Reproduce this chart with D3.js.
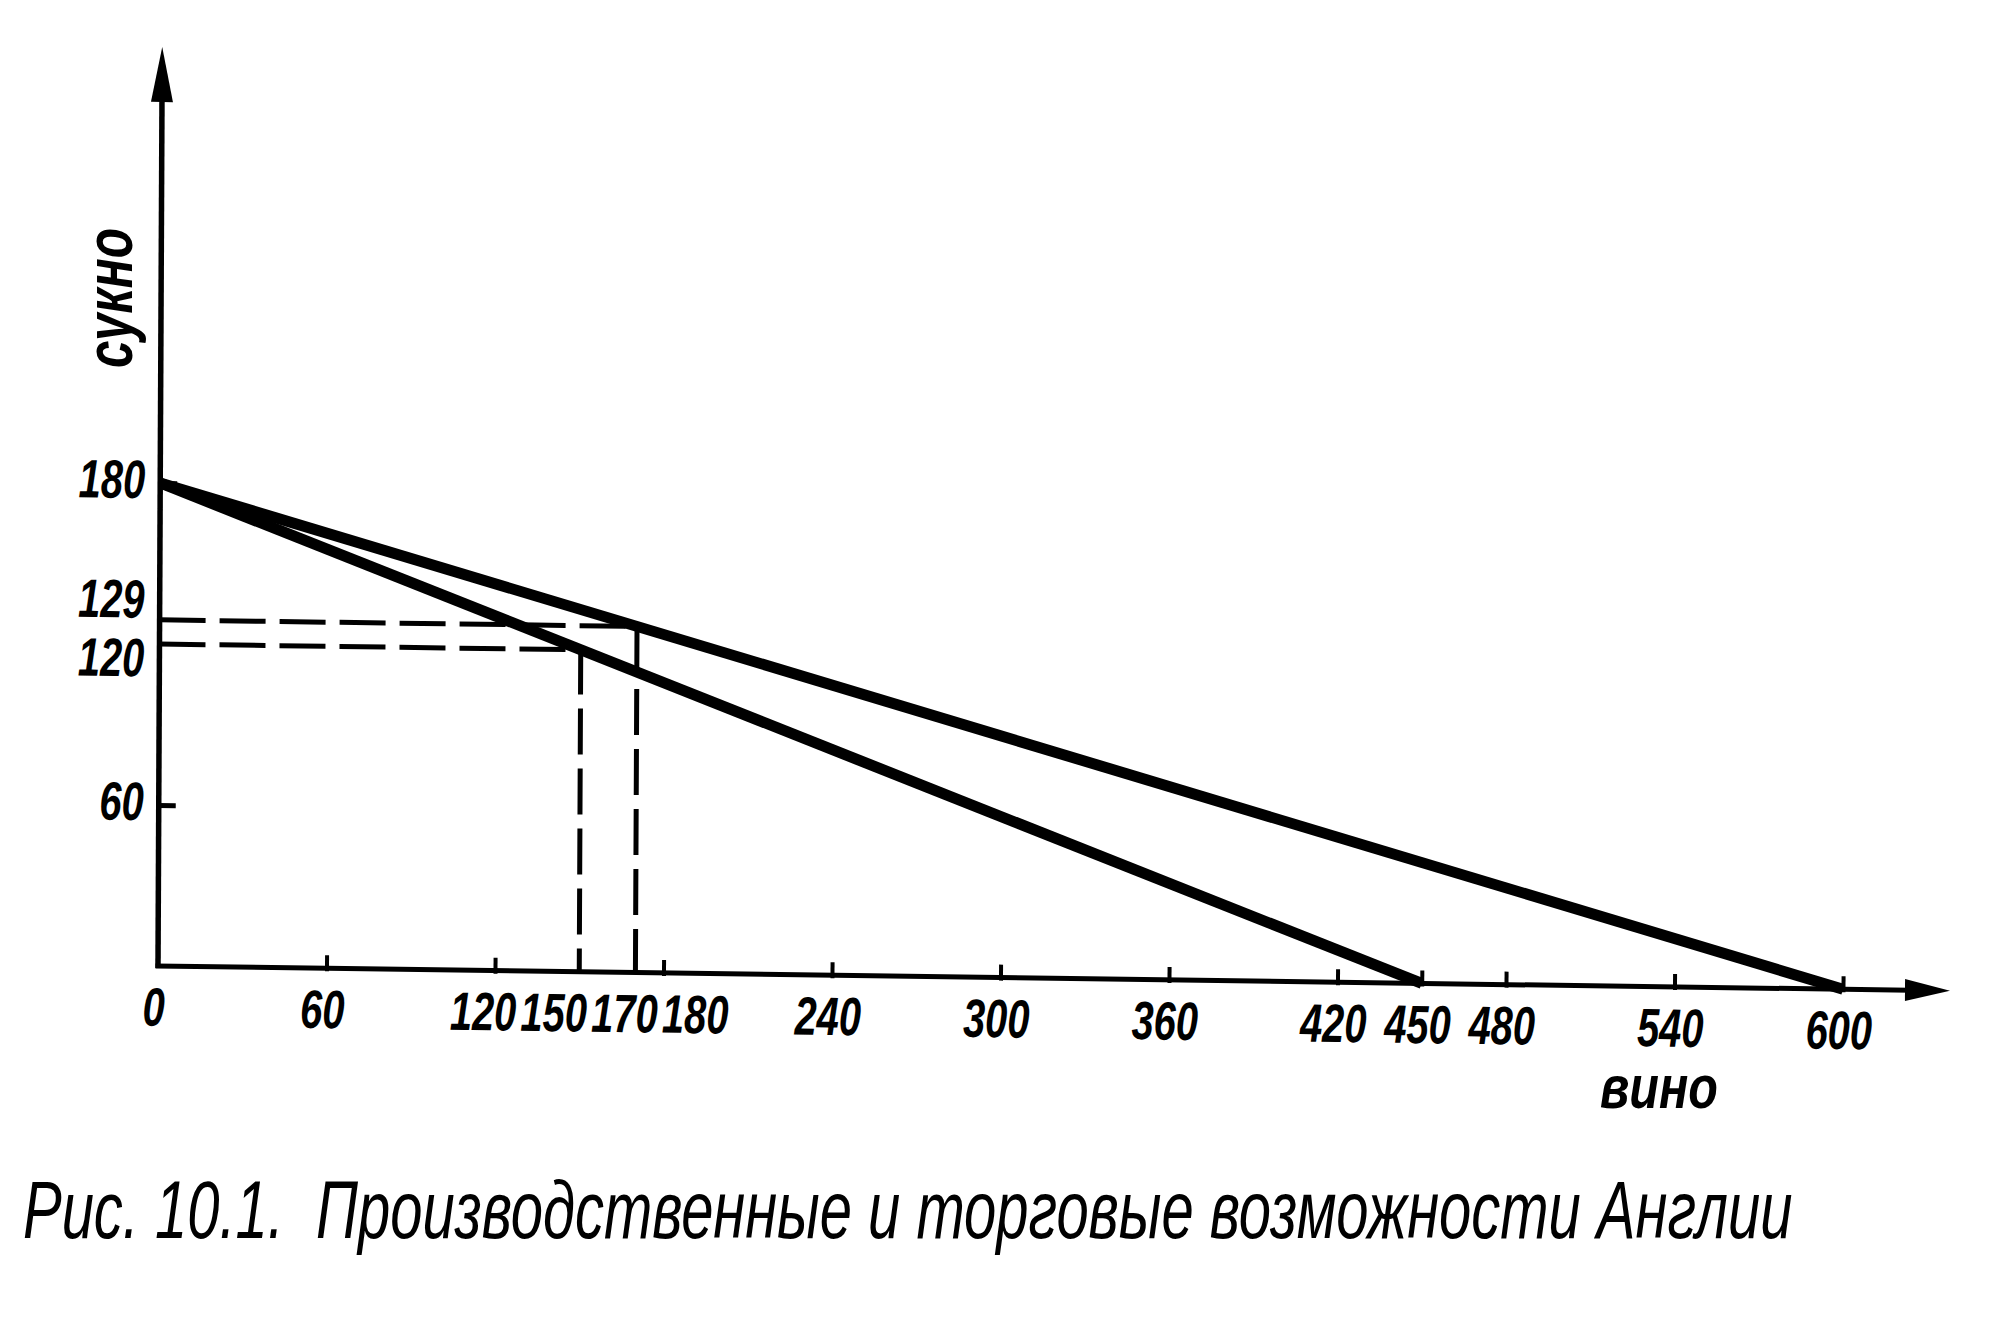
<!DOCTYPE html>
<html>
<head>
<meta charset="utf-8">
<script src="https://cdn.jsdelivr.net/npm/d3@7"></script>
<style>
  body { margin: 0; background: #fff; }
  text { font-family: "Liberation Sans", "DejaVu Sans", sans-serif; font-style: italic; font-weight: bold; fill: #000; }
  text.caption { font-weight: normal; }
</style>
</head>
<body>
<svg id="chart" width="2008" height="1329"></svg>
<script>
// ---------------- data ----------------
const xTickValues = [60, 120, 180, 240, 300, 360, 420, 450, 480, 540, 600];
const xLabelValues = [0, 60, 120, 150, 170, 180, 240, 300, 360, 420, 450, 480, 540, 600];
const yTickValues = [60, 180];
const yLabelValues = [60, 120, 129, 180];
const productionFrontier = [{ wine: 0, cloth: 180 }, { wine: 450, cloth: 0 }];
const tradeFrontier = [{ wine: 0, cloth: 180 }, { wine: 600, cloth: 0 }];
const productionPoint = { wine: 150, cloth: 120 };
const tradePoint = { wine: 170, cloth: 129 };
const xTitle = "вино";
const yTitle = "сукно";
const caption = "Рис. 10.1.  Производственные и торговые возможности Англии";

// ---------------- layout ----------------
const svg = d3.select("#chart");
const x = d3.scaleLinear().domain([0, 600]).range([158, 1843]);
const y = d3.scaleLinear().domain([0, 180]).range([966, 483]);
const x0 = x(0), y0 = y(0);
// slight tilt of the scanned drawing
const k = 0.0138, c = -0.0046;
const g = svg.append("g")
  .attr("transform", `matrix(1,${k},${c},1,${-c * y0},${-k * x0})`);

const SX = 0.74; // horizontal condensation of the lettering

function label(parent, str, px, py, size, anchor) {
  return parent.append("text")
    .attr("transform", `translate(${px},${py}) scale(${SX},1)`)
    .attr("text-anchor", anchor)
    .style("font-size", size + "px")
    .text(str);
}

// axes
g.append("line").attr("x1", x0).attr("y1", y0 + 2).attr("x2", x0).attr("y2", 100)
  .attr("stroke", "#000").attr("stroke-width", 5.5);
g.append("path").attr("d", `M${x0},47 L${x0 - 11},102 L${x0 + 11},102 Z`).attr("fill", "#000");
g.append("line").attr("x1", x0 - 2.5).attr("y1", y0).attr("x2", 1910).attr("y2", y0)
  .attr("stroke", "#000").attr("stroke-width", 5);
g.append("path").attr("d", `M1950,${y0} L1905,${y0 - 11} L1905,${y0 + 11} Z`).attr("fill", "#000");

// x ticks via d3 axis
const xAxis = g.append("g").attr("transform", `translate(0,${y0})`)
  .call(d3.axisBottom(x).tickValues(xTickValues).tickSizeInner(-13).tickSizeOuter(0).tickFormat(() => ""));
xAxis.select(".domain").remove();
xAxis.selectAll(".tick line").attr("stroke", "#000").attr("stroke-width", 4).attr("y1", 3);

// y ticks via d3 axis
const yAxis = g.append("g").attr("transform", `translate(${x0},0)`)
  .call(d3.axisLeft(y).tickValues(yTickValues).tickSizeInner(-17).tickSizeOuter(0).tickFormat(() => ""));
yAxis.select(".domain").remove();
yAxis.selectAll(".tick line").attr("stroke", "#000").attr("stroke-width", 5);

// dashed guides
const line = d3.line().x(d => x(d.wine)).y(d => y(d.cloth));
[productionPoint, tradePoint].forEach(p => {
  g.append("path")
    .attr("d", line([{ wine: 0, cloth: p.cloth }, { wine: p.wine, cloth: p.cloth }, { wine: p.wine, cloth: 0 }]))
    .attr("fill", "none").attr("stroke", "#000").attr("stroke-width", 5)
    .attr("stroke-dasharray", "46 14");
});

// frontiers
[productionFrontier, tradeFrontier].forEach(data => {
  g.append("path").attr("d", line(data))
    .attr("fill", "none").attr("stroke", "#000").attr("stroke-width", 11)
    .attr("stroke-linecap", "butt");
});

// label relaxation helper
function relax(items, key, pad) {
  for (let it = 0; it < 200; it++) {
    for (let i = 0; i < items.length - 1; i++) {
      const a = items[i], b = items[i + 1];
      const need = (a.size + b.size) / 2 + pad;
      const gap = b[key] - a[key];
      if (gap < need) {
        const d = (need - gap) / 2;
        a[key] -= d; b[key] += d;
      }
    }
  }
}

// x tick labels
const fs = 54;
const digitH = 0.716 * fs;
const xl = xLabelValues.map(v => {
  const t = label(g, String(v), 0, 0, fs, "middle");
  const w = t.node().getComputedTextLength() * SX;
  return { v, t, size: w, cx: x(v) };
});
relax(xl, "cx", 4);
xl.forEach(d => d.t.attr("transform", `translate(${d.cx - 4},${y0 + 21 + digitH}) scale(${SX},1)`));

// y tick labels
const yl = yLabelValues.slice().sort((a, b) => b - a).map(v => {
  const t = label(g, String(v), 0, 0, fs, "end");
  return { v, t, size: digitH, cy: y(v) };
});
relax(yl, "cy", 20);
yl.forEach(d => d.t.attr("transform", `translate(143,${d.cy + digitH / 2 - 4}) scale(${SX},1)`));

// axis titles
svg.append("text")
  .attr("transform", `translate(132,298) rotate(-90) scale(${SX},1)`)
  .attr("text-anchor", "middle").style("font-size", "67px").text(yTitle);
const xt = svg.append("text").style("font-size", "62px").text(xTitle);
const xtScale = 118 / xt.node().getComputedTextLength();
xt.attr("transform", `translate(1600,1108) scale(${xtScale},1)`);

// caption
const cap = svg.append("text").attr("class", "caption")
  .attr("xml:space", "preserve").style("white-space", "pre")
  .style("font-size", "81px").text(caption);
const capScale = 1770 / cap.node().getComputedTextLength();
cap.attr("transform", `translate(23,1238) scale(${capScale},1)`);
</script>
</body>
</html>
